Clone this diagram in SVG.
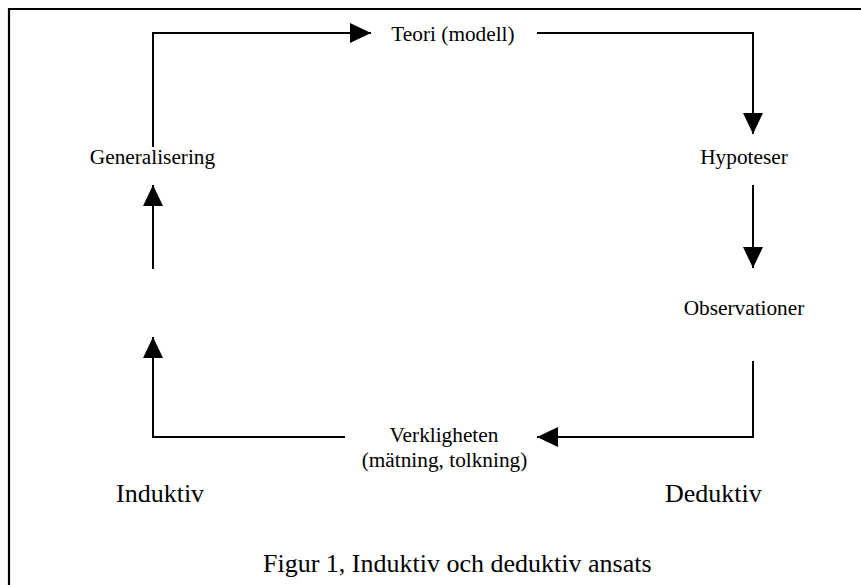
<svg xmlns="http://www.w3.org/2000/svg" width="861" height="585" viewBox="0 0 861 585">
  <style>
    .lbl { font-family: "Liberation Serif", "Times New Roman", serif; font-size: 21.3px; fill: #000; text-anchor: middle; }
    .big { font-family: "Liberation Serif", "Times New Roman", serif; font-size: 26px; fill: #000; }
    .conn { fill: none; stroke: #000; stroke-width: 2; }
    .frame { fill: none; stroke: #000; stroke-width: 2.2; }
  </style>
  <defs>
    <marker id="arrow" viewBox="0 0 21 20" refX="21" refY="10" markerWidth="21" markerHeight="20" markerUnits="userSpaceOnUse" orient="auto">
      <path d="M0,0 L21,10 L0,20 z" fill="#000"/>
    </marker>
  </defs>
  <rect width="861" height="585" fill="#fff"/>
  <path class="frame" d="M9,585 V9 H861"/>
  <g id="connectors">
    <path class="conn" d="M153,147 V33 H371" marker-end="url(#arrow)"/>
    <path class="conn" d="M537,33 H753 V134" marker-end="url(#arrow)"/>
    <path class="conn" d="M753,185 V268" marker-end="url(#arrow)"/>
    <path class="conn" d="M753,361 V437 H537" marker-end="url(#arrow)"/>
    <path class="conn" d="M345,437 H153 V337" marker-end="url(#arrow)"/>
    <path class="conn" d="M153,269 V185" marker-end="url(#arrow)"/>
  </g>
  <g id="teori"><text class="lbl" x="453" y="41">Teori (modell)</text></g>
  <g id="hypoteser"><text class="lbl" x="744" y="164">Hypoteser</text></g>
  <g id="observationer"><text class="lbl" x="744" y="315">Observationer</text></g>
  <g id="verkligheten"><text class="lbl" x="444" y="442">Verkligheten</text><text class="lbl" x="444.5" y="467">(mätning, tolkning)</text></g>
  <g id="generalisering"><text class="lbl" x="152.5" y="164">Generalisering</text></g>
  <g id="induktiv"><text class="big" x="116" y="502">Induktiv</text></g>
  <g id="deduktiv"><text class="big" x="665" y="502" font-size="25">Deduktiv</text></g>
  <g id="caption"><text class="big" x="263" y="572" font-size="27.4">Figur 1, Induktiv och deduktiv ansats</text></g>
</svg>
